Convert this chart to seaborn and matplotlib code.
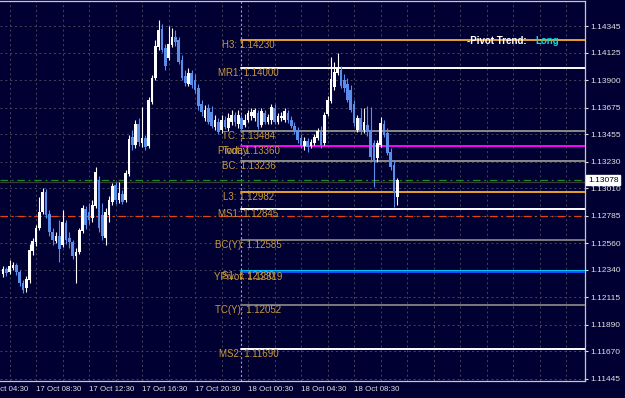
import numpy as np
import pandas as pd
import matplotlib
matplotlib.use("Agg")
import matplotlib.pyplot as plt
import seaborn as sns

# ---------------- data (EURUSD M15) ----------------
opens = [
    1.12307, 1.12348, 1.12323, 1.12356, 1.12381, 1.12323, 1.12233, 1.12192, 1.12257, 1.12496,
    1.12570, 1.12685, 1.12816, 1.12981, 1.12800, 1.12652, 1.12578, 1.12619, 1.12545, 1.12726,
    1.12603, 1.12570, 1.12455, 1.12488, 1.12660, 1.12841, 1.12816, 1.12767, 1.12866, 1.13079,
    1.12792, 1.12603, 1.12792, 1.12899, 1.13038, 1.12915, 1.12964, 1.12915, 1.13129, 1.13433,
    1.13367, 1.13540, 1.13384, 1.13425, 1.13359, 1.13721, 1.13918, 1.14173, 1.14321, 1.14164,
    1.14082, 1.14189, 1.14255, 1.14230, 1.14066, 1.13934, 1.13869, 1.13959, 1.13901, 1.13836,
    1.13704, 1.13589, 1.13671, 1.13638, 1.13515, 1.13556, 1.13490, 1.13573, 1.13507, 1.13556,
    1.13614, 1.13540, 1.13589, 1.13532, 1.13573, 1.13606, 1.13589, 1.13630, 1.13532, 1.13630,
    1.13556, 1.13573, 1.13671, 1.13556, 1.13589, 1.13573, 1.13630, 1.13573, 1.13523, 1.13490,
    1.13425, 1.13359, 1.13400, 1.13359, 1.13384, 1.13425, 1.13482, 1.13384, 1.13622, 1.13729,
    1.13844, 1.13959, 1.13984, 1.13901, 1.13869, 1.13819, 1.13704, 1.13490, 1.13589, 1.13490,
    1.13532, 1.13490, 1.13384, 1.13260, 1.13367, 1.13540, 1.13466, 1.13310, 1.13203, 1.12940,
]
highs = [
    1.12373, 1.12364, 1.12422, 1.12405, 1.12397, 1.12340, 1.12257, 1.12290, 1.12553, 1.12603,
    1.12710, 1.12940, 1.13014, 1.13005, 1.12833, 1.12685, 1.12652, 1.12751, 1.12833, 1.12751,
    1.12652, 1.12586, 1.12520, 1.12685, 1.12874, 1.12866, 1.12890, 1.12915, 1.13186, 1.13112,
    1.12890, 1.12849, 1.12948, 1.13055, 1.13063, 1.13063, 1.12997, 1.13162, 1.13449, 1.13490,
    1.13573, 1.13589, 1.13680, 1.13449, 1.13762, 1.13943, 1.14230, 1.14395, 1.14362, 1.14197,
    1.14345, 1.14329, 1.14312, 1.14255, 1.14107, 1.13984, 1.14000, 1.13984, 1.13951, 1.13869,
    1.13737, 1.13696, 1.13704, 1.13688, 1.13614, 1.13589, 1.13614, 1.13606, 1.13630, 1.13655,
    1.13638, 1.13655, 1.13614, 1.13622, 1.13655, 1.13671, 1.13671, 1.13655, 1.13671, 1.13655,
    1.13622, 1.13704, 1.13704, 1.13630, 1.13638, 1.13671, 1.13655, 1.13606, 1.13556, 1.13515,
    1.13458, 1.13433, 1.13425, 1.13416, 1.13458, 1.13507, 1.13523, 1.13638, 1.13770, 1.14091,
    1.14049, 1.14123, 1.14017, 1.13951, 1.13918, 1.13860, 1.13737, 1.13614, 1.13671, 1.13671,
    1.13688, 1.13680, 1.13408, 1.13408, 1.13597, 1.13573, 1.13507, 1.13342, 1.13244, 1.13096,
]
lows = [
    1.12282, 1.12290, 1.12307, 1.12340, 1.12299, 1.12208, 1.12151, 1.12159, 1.12233, 1.12463,
    1.12537, 1.12668, 1.12800, 1.12767, 1.12619, 1.12545, 1.12562, 1.12405, 1.12529, 1.12553,
    1.12520, 1.12430, 1.12233, 1.12471, 1.12644, 1.12677, 1.12718, 1.12734, 1.12849, 1.12652,
    1.12586, 1.12545, 1.12734, 1.12874, 1.12882, 1.12890, 1.12882, 1.12899, 1.13112, 1.13326,
    1.13342, 1.13359, 1.13351, 1.13326, 1.13342, 1.13704, 1.13901, 1.14148, 1.14132, 1.13984,
    1.14066, 1.14173, 1.14181, 1.14033, 1.13901, 1.13852, 1.13852, 1.13836, 1.13795, 1.13655,
    1.13606, 1.13564, 1.13540, 1.13507, 1.13490, 1.13458, 1.13466, 1.13499, 1.13482, 1.13532,
    1.13523, 1.13507, 1.13474, 1.13515, 1.13556, 1.13573, 1.13564, 1.13499, 1.13515, 1.13540,
    1.13540, 1.13540, 1.13540, 1.13540, 1.13564, 1.13556, 1.13548, 1.13507, 1.13458, 1.13384,
    1.13342, 1.13326, 1.13310, 1.13342, 1.13367, 1.13408, 1.13342, 1.13367, 1.13606, 1.13712,
    1.13819, 1.13943, 1.13836, 1.13803, 1.13721, 1.13638, 1.13523, 1.13474, 1.13458, 1.13466,
    1.13441, 1.13244, 1.13022, 1.13227, 1.13351, 1.13433, 1.13285, 1.13162, 1.12858, 1.12874,
]
closes = [
    1.12348, 1.12315, 1.12373, 1.12381, 1.12323, 1.12233, 1.12175, 1.12266, 1.12504, 1.12578,
    1.12685, 1.12816, 1.12981, 1.12792, 1.12652, 1.12586, 1.12619, 1.12512, 1.12734, 1.12586,
    1.12570, 1.12455, 1.12488, 1.12668, 1.12849, 1.12710, 1.12751, 1.12874, 1.13145, 1.12685,
    1.12619, 1.12816, 1.12915, 1.13030, 1.12915, 1.12973, 1.12899, 1.13137, 1.13416, 1.13367,
    1.13540, 1.13392, 1.13425, 1.13351, 1.13737, 1.13918, 1.14181, 1.14312, 1.14148, 1.14017,
    1.14197, 1.14255, 1.14214, 1.14049, 1.13918, 1.13877, 1.13959, 1.13860, 1.13819, 1.13688,
    1.13638, 1.13655, 1.13556, 1.13523, 1.13573, 1.13474, 1.13573, 1.13515, 1.13589, 1.13614,
    1.13556, 1.13614, 1.13499, 1.13573, 1.13630, 1.13638, 1.13655, 1.13515, 1.13647, 1.13556,
    1.13597, 1.13680, 1.13556, 1.13606, 1.13606, 1.13647, 1.13573, 1.13523, 1.13482, 1.13408,
    1.13359, 1.13400, 1.13351, 1.13392, 1.13433, 1.13482, 1.13367, 1.13614, 1.13737, 1.13910,
    1.13967, 1.14000, 1.13852, 1.13836, 1.13737, 1.13655, 1.13548, 1.13589, 1.13490, 1.13556,
    1.13474, 1.13269, 1.13244, 1.13384, 1.13548, 1.13449, 1.13301, 1.13186, 1.12981, 1.13078,
]

level_names = ["H3", "MR1", "TC", "Pivot", "BC", "L3", "MS1", "BC(Y)", "S1", "YPivot", "TC(Y)", "MS2"]
level_values = [1.14230, 1.14000, 1.13484, 1.13360, 1.13236, 1.12982, 1.12845,
                1.12585, 1.12330, 1.12319, 1.12052, 1.11690]
level_colors = ["#E9A12A", "#FFFFFF", "#8A8A8A", "#FF00FF", "#8A8A8A", "#E9A12A", "#FFFFFF",
                "#7A7A7A", "#00C8FF", "#0A50FF", "#7A7A7A", "#FFFFFF"]

bid_price = 1.13078
ask_line = 1.13060
alert_line = 1.12785

price_ticks = [1.14345, 1.14125, 1.13900, 1.13675, 1.13455, 1.13230, 1.13010,
               1.12785, 1.12560, 1.12340, 1.12115, 1.11890, 1.11670, 1.11445]
time_labels = ["17 Oct 04:30", "17 Oct 08:30", "17 Oct 12:30", "17 Oct 16:30",
               "17 Oct 20:30", "18 Oct 00:30", "18 Oct 04:30", "18 Oct 08:30"]
time_label_bars = [-6, 10, 26, 42, 58, 74, 90, 106]   # bar index of each label

# ---------------- style ----------------
BG = "#000033"
GRID = "#46465A"
AXC = "#C8C8C8"
LBL = "#C89A3A"
sns.set_theme(style="dark", rc={"axes.facecolor": BG, "figure.facecolor": BG,
                                "savefig.facecolor": BG})
plt.rcParams['font.family'] = ['Liberation Sans', 'DejaVu Sans']

fig = plt.figure(figsize=(6.25, 3.98), dpi=100)
ax = fig.add_axes([0, 17 / 398, 585 / 625, 380 / 398])
ax.set_facecolor(BG)

XMIN, XMAX = -0.906, 175.7
YMIN, YMAX = 1.11427, 1.14551
DAY_START = 71.75

df = pd.DataFrame({"i": np.arange(len(opens)), "open": opens, "high": highs,
                   "low": lows, "close": closes})
bull = df["close"] >= df["open"]
colors = np.where(bull, "#FFFFFF", "#5B8DEB")

# candles
ax.vlines(df["i"], df["low"], df["high"], colors=colors, lw=0.8, zorder=4)
body_bottom = np.minimum(df["open"], df["close"])
body_h = np.maximum(np.abs(df["close"] - df["open"]), 0.00006)
ax.bar(df["i"], body_h, bottom=body_bottom, width=0.8, color=colors, linewidth=0,
       zorder=5, antialiased=False)

# full-width lines
ax.axhline(alert_line, color="#E8420E", lw=0.9, ls=(0, (6, 3, 1.5, 3)), zorder=3)
ax.axhline(bid_price, color="#1C8C1C", lw=0.9, ls=(0, (6, 3, 1.5, 3)), zorder=3)
ax.axhline(ask_line, color="#3A3A3A", lw=0.9, zorder=2)

# day separator
ax.axvline(DAY_START, color="#A0A0B0", lw=0.8, ls=(0, (2, 2)), zorder=2)

# pivot level lines (seaborn)
for name, val, col in zip(level_names, level_values, level_colors):
    sns.lineplot(x=[DAY_START, XMAX], y=[val, val], color=col, lw=1.4, ax=ax,
                 legend=False, zorder=3)

# level labels
for name, val in zip(level_names, level_values):
    ax.text(74.1, val, f"{name}: {val:.5f}", ha="center", va="top", color=LBL,
            fontsize=7, zorder=6)
ax.text(70.3, level_values[3], "Today", ha="center", va="top", color=LBL, fontsize=7, zorder=6)

# trend text
ax.text(0.798, 0.895, "-Pivot Trend:", transform=ax.transAxes, color="white",
        fontsize=7, fontweight="bold", va="center", ha="left")
ax.text(0.916, 0.895, "Long", transform=ax.transAxes, color="#00E0E0",
        fontsize=7, fontweight="bold", va="center", ha="left")

# axes
ax.set_xlim(XMIN, XMAX)
ax.set_ylim(YMIN, YMAX)
ax.set_xlabel("")
ax.set_ylabel("")
ax.yaxis.tick_right()
ax.set_yticks(price_ticks)
ax.set_yticklabels([f"{v:.5f}" for v in price_ticks])
ax.tick_params(axis="y", colors="#E0E0E0", labelsize=6, length=2.5, pad=1.5,
               direction="out", width=0.8)

ax.set_xticks(time_label_bars[1:])
ax.set_xticklabels(time_labels[1:])
for t in ax.get_xticklabels():
    t.set_ha("left")
ax.tick_params(axis="x", colors="#E0E0E0", labelsize=5.7, length=2, pad=1.5,
               direction="out", width=0.8)
ax.set_xticks(np.arange(2, 176, 8), minor=True)
ax.tick_params(axis="x", which="minor", length=0)
ax.annotate(time_labels[0], xy=(time_label_bars[0], 0), xycoords=("data", "axes fraction"),
            xytext=(0, -3.5), textcoords="offset points", ha="left", va="top",
            fontsize=5.7, color="#E0E0E0", annotation_clip=False)

ax.grid(True, which="both", axis="x", color=GRID, lw=0.7, ls=(0, (2, 3)))
ax.grid(True, which="major", axis="y", color=GRID, lw=0.7, ls=(0, (2, 3)))
ax.set_axisbelow(True)

for s in ["top", "right", "bottom"]:
    ax.spines[s].set_color(AXC)
    ax.spines[s].set_linewidth(0.9)
    ax.spines[s].set_visible(True)
ax.spines["left"].set_visible(False)

# bid price box
ax.annotate(f"{bid_price:.5f}", xy=(1, bid_price), xycoords=("axes fraction", "data"),
            xytext=(2.2, 0), textcoords="offset points", ha="left", va="center",
            fontsize=6, color="black", zorder=10, annotation_clip=False,
            bbox=dict(boxstyle="square,pad=0.2", fc="white", ec="white"))

fig.savefig("out.png", dpi=100, facecolor=BG)
